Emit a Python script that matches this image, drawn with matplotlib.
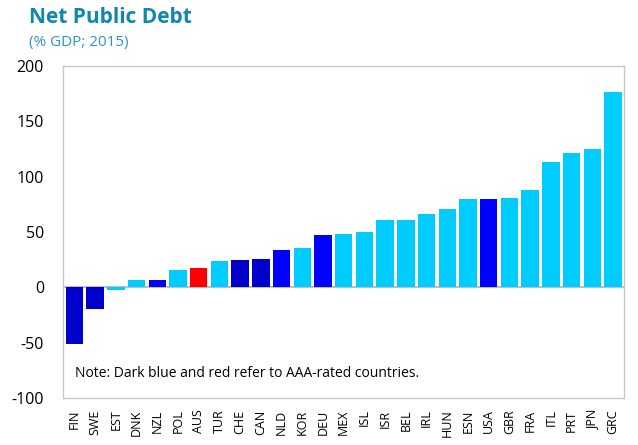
import matplotlib
matplotlib.use("Agg")
import matplotlib.pyplot as plt

plt.rcParams['font.family'] = ['Open Sans', 'DejaVu Sans']

countries = ["FIN", "SWE", "EST", "DNK", "NZL", "POL", "AUS", "TUR", "CHE", "CAN",
             "NLD", "KOR", "DEU", "MEX", "ISL", "ISR", "BEL", "IRL", "HUN", "ESN",
             "USA", "GBR", "FRA", "ITL", "PRT", "JPN", "GRC"]
values = [-51, -19.5, -2, 6.3, 6.3, 16, 18, 23.5, 24.5, 26,
          34, 36, 47.5, 48, 50.5, 61, 61, 66.6, 71, 79.6,
          79.6, 80.4, 87.7, 113.3, 121, 125, 176.7]
groups = ["aaa1", "aaa1", "other", "other", "aaa2", "other", "red", "other", "aaa1", "aaa1",
          "aaa2", "other", "aaa2", "other", "other", "other", "other", "other", "other", "other",
          "aaa2", "other", "other", "other", "other", "other", "other"]
palette = {"aaa1": "#0000CC", "aaa2": "#0000FF", "red": "#FF0000", "other": "#00CCFF"}
yticks = [-100, -50, 0, 50, 100, 150, 200]

fig = plt.figure(figsize=(6.38, 4.45), dpi=100)
ax = fig.add_axes([0.0995, 0.105, 0.8785, 0.747])

x = range(len(countries))
ax.bar(x, values, width=0.84, color=[palette[g] for g in groups], zorder=2)
ax.axhline(0, color="#BFBFBF", lw=1.5, zorder=1)

ax.set_xlim(-0.53, len(countries) - 0.47)
ax.set_ylim(-100, 200)
ax.set_yticks(yticks)
ax.set_yticklabels([str(t) for t in yticks], fontsize=11.5)
ax.set_xticks(list(x))
ax.set_xticklabels(countries, rotation=90, fontsize=9)
ax.tick_params(axis="both", length=0, colors="black")
ax.tick_params(axis="y", pad=14)
ax.tick_params(axis="x", pad=8)
for s in ax.spines.values():
    s.set_color("#C8C8C8")
    s.set_linewidth(1)

ax.text(0.02, 0.075, "Note: Dark blue and red refer to AAA-rated countries.",
        transform=ax.transAxes, fontsize=10, color="black", va="center")

fig.text(0.045, 0.96, "Net Public Debt", fontsize=15, fontweight="bold",
         color="#0F87AF", va="center")
fig.text(0.045, 0.905, "(% GDP; 2015)", fontsize=11, color="#2A9AC0", va="center")

fig.savefig("out.png", dpi=100)
